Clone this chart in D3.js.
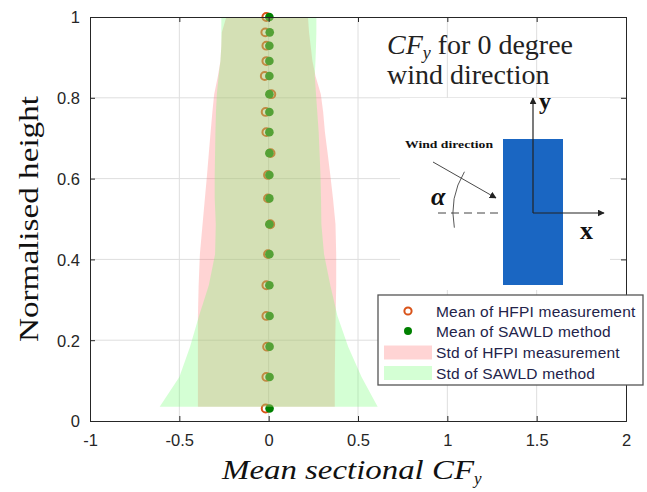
<!DOCTYPE html>
<html>
<head>
<meta charset="utf-8">
<script src="https://cdn.jsdelivr.net/npm/d3@7"></script>
<style>
  body { margin: 0; background: #fff; }
  svg { display: block; }
</style>
</head>
<body>
<script>
// chart size
var width = 647, height = 492;

// heights of the measurement sections (normalised)
var heights = [1.0, 0.962, 0.929, 0.891, 0.854, 0.809, 0.765, 0.715, 0.663, 0.609, 0.551, 0.487, 0.413, 0.336, 0.260, 0.184, 0.109, 0.031];
// mean sectional CFy
var hfpiMean  = [-0.013, -0.019, -0.013, -0.013, -0.022, 0.015, -0.017, -0.013, 0.011, -0.004, -0.004, 0.009, -0.004, -0.013, -0.013, -0.009, -0.013, -0.017];
var sawldMean = [0.004, 0.006, 0.004, 0.004, 0.004, 0.004, 0.004, 0.004, 0.004, 0.004, 0.004, 0.004, 0.004, 0.004, 0.005, 0.005, 0.005, 0.005];

// std envelopes (mean - std, mean + std)
var bandH   = [1.0, 0.962, 0.929, 0.891, 0.854, 0.809, 0.765, 0.715, 0.663, 0.609, 0.551, 0.487, 0.413, 0.336, 0.260, 0.184, 0.109, 0.035];
var hfpiLo  = [-0.237, -0.262, -0.265, -0.27, -0.284, -0.305, -0.315, -0.325, -0.335, -0.345, -0.357, -0.37, -0.385, -0.392, -0.396, -0.396, -0.396, -0.396];
var hfpiHi  = [0.22, 0.226, 0.235, 0.245, 0.262, 0.292, 0.305, 0.315, 0.33, 0.345, 0.36, 0.374, 0.378, 0.378, 0.375, 0.372, 0.37, 0.37];
var sawldLo = [-0.265, -0.265, -0.265, -0.27, -0.28, -0.29, -0.295, -0.298, -0.3, -0.302, -0.302, -0.296, -0.3, -0.335, -0.39, -0.44, -0.5, -0.61];
var sawldHi = [0.267, 0.267, 0.265, 0.262, 0.258, 0.265, 0.272, 0.28, 0.285, 0.29, 0.293, 0.295, 0.31, 0.345, 0.385, 0.445, 0.52, 0.61];

var xTicks = [-1, -0.5, 0, 0.5, 1, 1.5, 2];
var yTicks = [0, 0.2, 0.4, 0.6, 0.8, 1];
var legendLabels = ["Mean of HFPI measurement", "Mean of SAWLD method", "Std of HFPI measurement", "Std of SAWLD method"];

var axisColor = "#262626";
var hfpiColor = "#D95319", sawldColor = "#008000";
var hfpiFill = "rgb(255,108,108)", sawldFill = "rgb(108,255,108)", fillAlpha = 0.295;

// plot box (pixels)
var pLeft = 90, pRight = 626, pTop = 17, pBottom = 421;

var x = d3.scaleLinear().domain([-1, 2]).range([pLeft, pRight]);
var y = d3.scaleLinear().domain([0, 1]).range([pBottom, pTop]);

var svg = d3.select("body").append("svg")
  .attr("width", width)
  .attr("height", height);

var defs = svg.append("defs");
defs.append("marker")
  .attr("id", "arrow")
  .attr("viewBox", "0 0 10 10")
  .attr("refX", 9).attr("refY", 5)
  .attr("markerWidth", 7).attr("markerHeight", 7)
  .attr("markerUnits", "userSpaceOnUse")
  .attr("orient", "auto")
  .append("path")
  .attr("d", "M0,0 L10,5 L0,10 Z")
  .attr("fill", "#222");

// grid
var grid = svg.append("g");
grid.selectAll(".gx")
  .data(xTicks.slice(1, -1))
  .enter().append("line")
  .attr("x1", function(d) { return x(d); })
  .attr("x2", function(d) { return x(d); })
  .attr("y1", pTop).attr("y2", pBottom)
  .attr("stroke", "#dedede");
grid.selectAll(".gy")
  .data(yTicks.slice(1, -1))
  .enter().append("line")
  .attr("y1", function(d) { return y(d); })
  .attr("y2", function(d) { return y(d); })
  .attr("x1", pLeft).attr("x2", pRight)
  .attr("stroke", "#dedede");

// markers (drawn below the transparent bands, as in the source figure)
var pts = heights.map(function(h, i) {
  return { h: h, hfpi: hfpiMean[i], sawld: sawldMean[i] };
});
svg.selectAll(".hfpi")
  .data(pts)
  .enter().append("circle")
  .attr("cx", function(d) { return x(d.hfpi); })
  .attr("cy", function(d) { return y(d.h); })
  .attr("r", 3.9)
  .attr("fill", "none")
  .attr("stroke", hfpiColor)
  .attr("stroke-width", 2);
svg.selectAll(".sawld")
  .data(pts)
  .enter().append("circle")
  .attr("cx", function(d) { return x(d.sawld); })
  .attr("cy", function(d) { return y(d.h); })
  .attr("r", 4.3)
  .attr("fill", sawldColor);

// std bands
var bands = bandH.map(function(h, i) {
  return { h: h, hLo: hfpiLo[i], hHi: hfpiHi[i], sLo: sawldLo[i], sHi: sawldHi[i] };
});
var areaH = d3.area()
  .y(function(d) { return y(d.h); })
  .x0(function(d) { return x(d.hLo); })
  .x1(function(d) { return x(d.hHi); });
var areaS = d3.area()
  .y(function(d) { return y(d.h); })
  .x0(function(d) { return x(d.sLo); })
  .x1(function(d) { return x(d.sHi); });
svg.append("path").datum(bands)
  .attr("d", areaH)
  .attr("fill", hfpiFill)
  .attr("fill-opacity", fillAlpha);
svg.append("path").datum(bands)
  .attr("d", areaS)
  .attr("fill", sawldFill)
  .attr("fill-opacity", fillAlpha);

// axes
var fmt = function(d) { return String(d); };
var xAxis = svg.append("g")
  .attr("transform", "translate(0," + pBottom + ")")
  .call(d3.axisBottom(x).tickValues(xTicks).tickFormat(fmt).tickSize(-5).tickPadding(13));
var xTop = svg.append("g")
  .attr("transform", "translate(0," + pTop + ")")
  .call(d3.axisTop(x).tickValues(xTicks).tickFormat("").tickSize(-5));
var yAxis = svg.append("g")
  .attr("transform", "translate(" + pLeft + ",0)")
  .call(d3.axisLeft(y).tickValues(yTicks).tickFormat(fmt).tickSize(-5).tickPadding(10));
var yRight = svg.append("g")
  .attr("transform", "translate(" + pRight + ",0)")
  .call(d3.axisRight(y).tickValues(yTicks).tickFormat("").tickSize(-5));

[xAxis, xTop, yAxis, yRight].forEach(function(a) {
  a.selectAll("path, line").attr("stroke", axisColor);
  a.selectAll("text")
    .attr("fill", axisColor)
    .style("font-family", "'Liberation Sans', Arial, sans-serif")
    .style("font-size", "16.5px");
});
yAxis.selectAll("text").attr("dy", "0.36em");

// axis titles
svg.append("text")
  .attr("transform", "translate(38," + (pTop + pBottom) / 2 + ") rotate(-90)")
  .attr("text-anchor", "middle")
  .attr("textLength", 246)
  .attr("lengthAdjust", "spacingAndGlyphs")
  .style("font-family", "'Liberation Serif', 'Times New Roman', serif")
  .style("font-size", "27px")
  .attr("fill", "#111")
  .text("Normalised height");

var xt = svg.append("text")
  .attr("x", 222)
  .attr("y", 479)
  .style("font-family", "'Liberation Serif', 'Times New Roman', serif")
  .style("font-style", "italic")
  .style("font-size", "27px")
  .attr("fill", "#111");
xt.append("tspan").attr("textLength", 252).attr("lengthAdjust", "spacingAndGlyphs").text("Mean sectional CF");
xt.append("tspan").attr("dy", 5).style("font-size", "17px").text("y");

// inset diagram
var inset = svg.append("g");
inset.append("text")
  .attr("x", 387).attr("y", 54)
  .style("font-family", "'Liberation Serif', 'Times New Roman', serif")
  .style("font-size", "28px")
  .attr("fill", "#222")
  .call(function(t) {
    t.append("tspan").style("font-style", "italic").text("CF");
    t.append("tspan").style("font-style", "italic").style("font-size", "18px").attr("dy", 5).text("y");
    t.append("tspan").attr("dy", -5).text(" for 0 degree");
  });
inset.append("text")
  .attr("x", 387).attr("y", 84)
  .style("font-family", "'Liberation Serif', 'Times New Roman', serif")
  .style("font-size", "28px")
  .attr("fill", "#222")
  .text("wind direction");

inset.append("rect")
  .attr("x", 400).attr("y", 98)
  .attr("width", 210).attr("height", 192)
  .attr("fill", "#fff");
inset.append("rect")
  .attr("x", 503).attr("y", 139)
  .attr("width", 60).attr("height", 146)
  .attr("fill", "#1a66c2");
// dashed reference line
inset.append("line")
  .attr("x1", 438).attr("y1", 213).attr("x2", 503).attr("y2", 213)
  .attr("stroke", "#444").attr("stroke-width", 1)
  .attr("stroke-dasharray", "8,5");
// coordinate axes
inset.append("line")
  .attr("x1", 533).attr("y1", 213).attr("x2", 533).attr("y2", 98)
  .attr("stroke", "#222").attr("stroke-width", 1.2)
  .attr("marker-end", "url(#arrow)");
inset.append("line")
  .attr("x1", 533).attr("y1", 213).attr("x2", 604).attr("y2", 213)
  .attr("stroke", "#222").attr("stroke-width", 1.2)
  .attr("marker-end", "url(#arrow)");
inset.append("text")
  .attr("x", 539).attr("y", 109)
  .style("font-family", "'Liberation Serif', 'Times New Roman', serif")
  .style("font-weight", "bold").style("font-size", "24px")
  .attr("fill", "#111").text("y");
inset.append("text")
  .attr("x", 580).attr("y", 239)
  .style("font-family", "'Liberation Serif', 'Times New Roman', serif")
  .style("font-weight", "bold").style("font-size", "26px")
  .attr("fill", "#111").text("x");
// wind arrow and angle arc
inset.append("text")
  .attr("x", 405).attr("y", 148)
  .attr("textLength", 88)
  .attr("lengthAdjust", "spacingAndGlyphs")
  .style("font-family", "'Liberation Serif', 'Times New Roman', serif")
  .style("font-weight", "bold").style("font-size", "11px")
  .attr("fill", "#111").text("Wind direction");
inset.append("line")
  .attr("x1", 433).attr("y1", 162).attr("x2", 496).attr("y2", 198)
  .attr("stroke", "#333").attr("stroke-width", 0.9)
  .attr("marker-end", "url(#arrow)");
var arcPath = d3.path();
var a0 = -2.6, a1 = -2.6 + 0.9;
arcPath.moveTo(533 + 80 * Math.cos(2.957), 213 + 80 * Math.sin(2.957));
arcPath.arc(533, 213, 80, 2.957, Math.PI * 2 - 2.6);
inset.append("path")
  .attr("d", arcPath.toString())
  .attr("fill", "none")
  .attr("stroke", "#444").attr("stroke-width", 0.9);
inset.append("text")
  .attr("x", 431).attr("y", 205)
  .style("font-family", "'Liberation Serif', 'Times New Roman', serif")
  .style("font-weight", "bold").style("font-style", "italic").style("font-size", "26px")
  .attr("fill", "#111").text("\u03b1");

// legend
var lg = svg.append("g").attr("transform", "translate(378,295)");
lg.append("rect")
  .attr("width", 265).attr("height", 90)
  .attr("fill", "#fff")
  .attr("stroke", "#555").attr("stroke-width", 1.3);
var rowY = [16, 36, 57.5, 78];
lg.append("circle").attr("cx", 30).attr("cy", rowY[0])
  .attr("r", 3.6).attr("fill", "#fff").attr("stroke", hfpiColor).attr("stroke-width", 2);
lg.append("circle").attr("cx", 30).attr("cy", rowY[1])
  .attr("r", 4).attr("fill", sawldColor);
lg.append("rect").attr("x", 6).attr("y", rowY[2] - 7).attr("width", 48).attr("height", 14)
  .attr("fill", hfpiFill).attr("fill-opacity", fillAlpha);
lg.append("rect").attr("x", 6).attr("y", rowY[3] - 7).attr("width", 48).attr("height", 14)
  .attr("fill", sawldFill).attr("fill-opacity", fillAlpha);
lg.selectAll(".lt")
  .data(legendLabels)
  .enter().append("text")
  .attr("x", 58)
  .attr("y", function(d, i) { return rowY[i]; })
  .attr("dy", "0.36em")
  .style("font-family", "'Liberation Sans', Arial, sans-serif")
  .style("font-size", "15.5px")
  .style("letter-spacing", "0.2px")
  .attr("fill", "#23234a")
  .text(function(d) { return d; });
</script>
</body>
</html>
